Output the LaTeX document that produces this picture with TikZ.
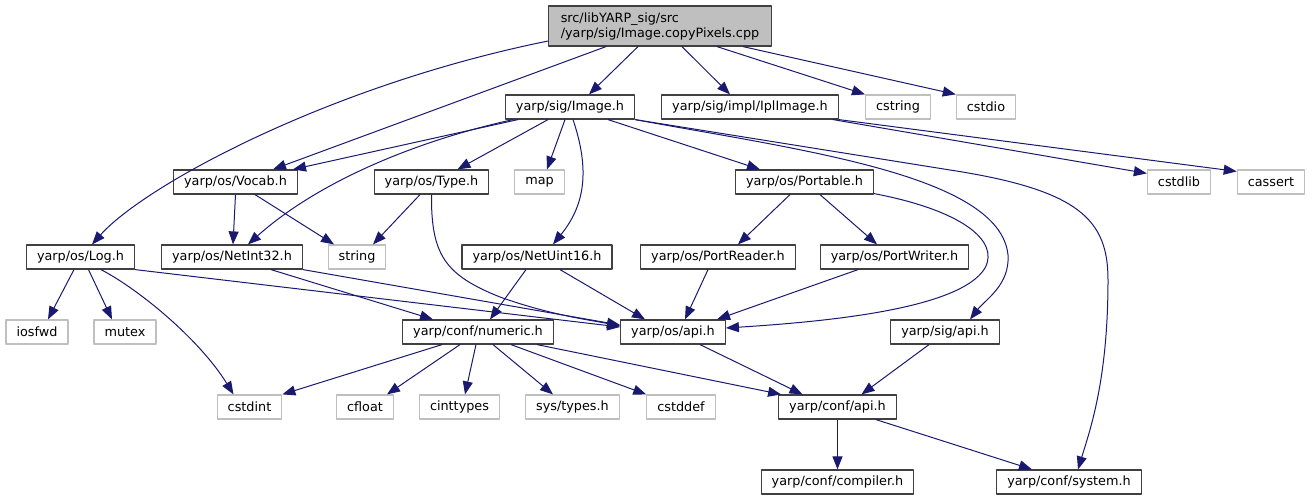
\documentclass[tikz,border=0pt]{standalone}
\usepackage{fontspec}
\setmainfont{DejaVu Sans}
\usetikzlibrary{arrows.meta}
\definecolor{edgeblue}{RGB}{25,25,112}
\definecolor{grey75}{RGB}{191,191,191}
\definecolor{boxline}{RGB}{64,64,64}
\begin{document}
\begin{tikzpicture}[x=1pt,y=-1pt,>={Triangle[length=13pt,width=10pt]},line join=round,
    font=\fontsize{12.8}{15}\selectfont,
    file/.style={draw=boxline,line width=1.2pt,inner xsep=10.5pt,inner ysep=0pt,minimum height=24pt},
    ext/.style={file,draw=grey75},
    dep/.style={->,draw=edgeblue,line width=1pt}]
    \useasboundingbox (0,0) rectangle (1312,500);
    \node[file,fill=grey75,align=left,minimum height=40pt,inner xsep=12pt] (src) at (660,26) {src/libYARP\_sig/src\\/yarp/sig/Image.copyPixels.cpp};
    \node[file] (img) at (570,107) {yarp/sig/Image.h};
    \node[file] (ipl) at (750,107) {yarp/sig/impl/IplImage.h};
    \node[ext] (cstr) at (898,107) {cstring};
    \node[ext] (cstdio) at (986,107) {cstdio};
    \node[file] (voc) at (235.5,182) {yarp/os/Vocab.h};
    \node[file] (type) at (431.5,182) {yarp/os/Type.h};
    \node[ext] (map) at (539.5,182) {map};
    \node[file] (port) at (804.5,182) {yarp/os/Portable.h};
    \node[ext] (cstdlib) at (1179,182) {cstdlib};
    \node[ext] (cassert) at (1271,182) {cassert};
    \node[file] (log) at (80.5,257) {yarp/os/Log.h};
    \node[file] (ni32) at (232,257) {yarp/os/NetInt32.h};
    \node[ext] (str) at (357,257) {string};
    \node[file] (nu16) at (537,257) {yarp/os/NetUint16.h};
    \node[file] (prd) at (718,257) {yarp/os/PortReader.h};
    \node[file] (pwr) at (894.5,257) {yarp/os/PortWriter.h};
    \node[ext] (iosfwd) at (37,332) {iosfwd};
    \node[ext] (mutex) at (125,332) {mutex};
    \node[file] (numeric) at (478,332) {yarp/conf/numeric.h};
    \node[file] (osapi) at (673,332) {yarp/os/api.h};
    \node[file] (sigapi) at (945,332) {yarp/sig/api.h};
    \node[ext] (cstdint) at (249.5,407) {cstdint};
    \node[ext] (cfloat) at (365,407) {cfloat};
    \node[ext] (cinttypes) at (459.5,407) {cinttypes};
    \node[ext] (systypes) at (572.5,407) {sys/types.h};
    \node[ext] (cstddef) at (681,407) {cstddef};
    \node[file] (confapi) at (837.5,407) {yarp/conf/api.h};
    \node[file] (compiler) at (837.5,482) {yarp/conf/compiler.h};
    \node[file] (sys) at (1069,482) {yarp/conf/system.h};

    \draw[dep] ([yshift=-15pt]src.west) .. controls (330,85) and (145,185) .. ([xshift=11.5pt]log.north);
    \draw[dep] ([xshift=-54pt]src.south) -- ([xshift=37.5pt]voc.north);
    \draw[dep] ([xshift=-22pt]src.south) -- ([xshift=19pt]img.north);
    \draw[dep] ([xshift=22pt]src.south) -- ([xshift=-20pt]ipl.north);
    \draw[dep] ([xshift=57pt]src.south) -- (cstr.north west);
    \draw[dep] ([xshift=83pt]src.south) -- (cstdio.north west);

    \draw[dep] ([xshift=-52pt]img.south) -- ([xshift=57.5pt]voc.north);
    \draw[dep] ([xshift=-57pt]img.south) .. controls (420,140) and (320,180) .. ([xshift=16pt]ni32.north);
    \draw[dep] ([xshift=-22pt]img.south) -- ([xshift=26pt]type.north);
    \draw[dep] ([xshift=-5pt]img.south) -- ([xshift=7.5pt]map.north);
    \draw[dep] ([xshift=3pt]img.south) .. controls (590,170) and (585,205) .. ([xshift=16pt]nu16.north);
    \draw[dep] ([xshift=38pt]img.south) -- ([xshift=-44.5pt]port.north);
    \draw[dep] (img.south east) .. controls (800,150) and (1000,175) .. (1008,255) .. controls (1010,285) and (985,300) .. ([xshift=25pt]sigapi.north);
    \draw[dep] (img.south east) -- (950,170) .. controls (1080,190) and (1108,220) .. (1108,280) .. controls (1108,380) and (1090,430) .. ([xshift=9pt]sys.north);

    \draw[dep] ([xshift=83pt]ipl.south) -- ([yshift=-4pt]cstdlib.north west);
    \draw[dep] (ipl.south east) -- ([yshift=-2pt]cassert.north west);

    \draw[dep] (voc.south) -- ([xshift=1pt]ni32.north);
    \draw[dep] ([xshift=19.5pt]voc.south) -- ([xshift=-23pt]str.north);
    \draw[dep] ([xshift=-11.5pt]type.south) -- ([xshift=16pt]str.north);
    \draw[dep] (type.south) .. controls (431,255) and (445,275) .. (500,297) .. controls (550,315) and (590,320) .. ([yshift=6pt]osapi.west);
    \draw[dep] ([xshift=-14.5pt]port.south) -- ([xshift=20pt]prd.north);
    \draw[dep] ([xshift=15.5pt]port.south) -- ([xshift=-17.5pt]pwr.north);
    \draw[dep] ([yshift=1pt]port.south east) .. controls (960,210) and (1000,240) .. (985,268) .. controls (960,310) and (820,322) .. ([yshift=4pt]osapi.east);

    \draw[dep] ([xshift=-6.5pt]log.south) -- ([xshift=11pt]iosfwd.north);
    \draw[dep] ([xshift=8pt]log.south) -- ([xshift=-13pt]mutex.north);
    \draw[dep] ([xshift=20.5pt]log.south) .. controls (140,290) and (200,340) .. ([xshift=-16pt]cstdint.north);
    \draw[dep] (log.south east) -- ([yshift=5pt]osapi.west);
    \draw[dep] ([xshift=39pt]ni32.south) -- ([xshift=-45pt]numeric.north);
    \draw[dep] (ni32.south east) -- ([yshift=7pt]osapi.west);
    \draw[dep] ([xshift=-11pt]nu16.south) -- ([xshift=12pt]numeric.north);
    \draw[dep] ([xshift=23pt]nu16.south) -- ([xshift=-28pt]osapi.north);
    \draw[dep] ([xshift=-10pt]prd.south) -- ([xshift=12pt]osapi.north);
    \draw[dep] ([xshift=-36.5pt]pwr.south) -- ([xshift=44pt]osapi.north);

    \draw[dep] ([xshift=27pt]osapi.south) -- ([xshift=-35pt]confapi.north);
    \draw[dep] ([xshift=-16pt]sigapi.south) -- ([xshift=24pt]confapi.north);
    \draw[dep] ([xshift=-36pt]numeric.south) -- (cstdint.north east);
    \draw[dep] ([xshift=-18pt]numeric.south) -- ([xshift=22pt]cfloat.north);
    \draw[dep] ([xshift=-2pt]numeric.south) -- ([xshift=5.5pt]cinttypes.north);
    \draw[dep] ([xshift=15pt]numeric.south) -- ([xshift=-19.5pt]systypes.north);
    \draw[dep] ([xshift=33pt]numeric.south) -- (cstddef.north west);
    \draw[dep] ([xshift=59pt]numeric.south) -- ([xshift=3pt]confapi.north west);
    \draw[dep] (confapi.south) -- (compiler.north);
    \draw[dep] ([xshift=38.5pt]confapi.south) -- ([xshift=-37pt]sys.north);
\end{tikzpicture}
\end{document}
